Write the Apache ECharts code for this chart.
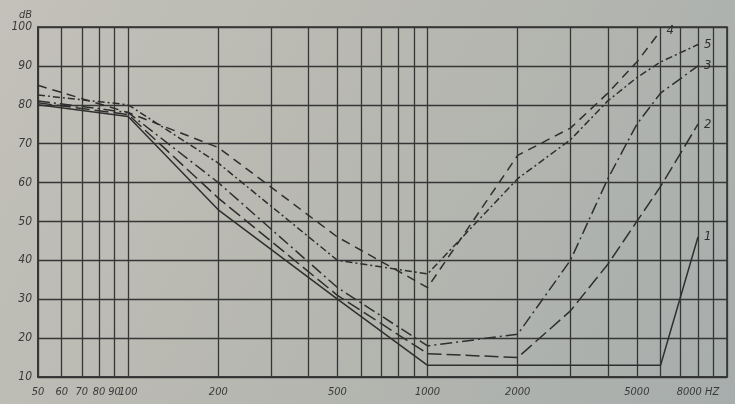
<!DOCTYPE html>
<html>
<head>
<meta charset="utf-8">
<script src="https://cdn.jsdelivr.net/npm/echarts@6/dist/echarts.min.js"></script>
<style>html,body{margin:0;padding:0;background:#b8b8b0;}#c{width:735px;height:404px;}</style>
</head>
<body>
<div id="c"></div>
<script>
// Frequencies of the vertical grid lines (Hz)
const gridFreqs = [50,60,70,80,90,100,200,300,400,500,600,700,800,900,1000,2000,3000,4000,5000,6000,7000,8000,9000,10000];
// Labelled frequencies and their texts
const tickFreqs = [50,60,70,80,90,100,200,500,1000,2000,5000,8000];
const tickTexts = ['50','60','70','80','90','100','200','500','1000','2000','5000','8000 HZ'];
// dB tick labels
const dbTicks = [10,20,30,40,50,60,70,80,90,100];

// Curves [Hz, dB]
const curve1 = [[50,80],[100,77],[200,53],[500,30],[1000,13],[6000,13],[8000,46]];
const curve2 = [[50,80.5],[100,77.5],[200,56],[500,31],[1000,16],[2000,15],[3000,27],[4000,39],[5000,50],[6000,59],[8000,75]];
const curve3 = [[50,81],[100,78],[200,60],[500,33],[1000,18],[2000,21],[3000,40],[4000,61],[5000,75],[6000,83],[8000,90]];
const curve4 = [[50,85],[100,78],[200,69],[500,46],[1000,33],[2000,67],[3000,74],[4000,83],[5000,91],[6000,99]];
const curve5 = [[50,82.5],[100,80],[200,65],[500,40],[1000,36.5],[2000,61],[3000,71],[4000,81],[5000,87],[6000,91],[8000,95.5]];
const curveNames = ['1','2','3','4','5'];

const ink = '#2f2f2f';
const font = "'DejaVu Sans Condensed','Liberation Sans Narrow','DejaVu Sans',sans-serif";

function mkSeries(data, name, dash) {
  return {
    type: 'line', name: name, data: data, symbol: 'none', smooth: false,
    lineStyle: { color: ink, width: 1.5, type: dash },
    endLabel: { show: true, formatter: name, color: ink, fontStyle: 'italic',
                fontFamily: font, fontSize: 13, distance: 6 },
    z: 5
  };
}

const gridLines = gridFreqs.map(f => {
  const i = tickFreqs.indexOf(f);
  return {
    xAxis: f,
    label: i >= 0 ? { show: true, formatter: tickTexts[i] } : { show: false }
  };
});

const series = [
  mkSeries(curve1, curveNames[0], 'solid'),
  mkSeries(curve2, curveNames[1], [14,5]),
  mkSeries(curve3, curveNames[2], [12,4,2,4]),
  mkSeries(curve4, curveNames[3], [9,6]),
  mkSeries(curve5, curveNames[4], [7,3,2,3])
];
series.push({
  type: 'line', data: [], silent: true,
  markLine: {
    silent: true, symbol: ['none','none'], animation: false,
    lineStyle: { color: '#363636', type: 'solid', width: 1.3 },
    label: { position: 'start', color: '#3a3a3a', fontStyle: 'italic', fontFamily: font, fontSize: 11, distance: 10 },
    data: gridLines
  },
  z: 2
});

const chart = echarts.init(document.getElementById('c'), null, { renderer: 'canvas' });
chart.setOption({
  animation: false,
  backgroundColor: {
    type: 'linear', x: 0, y: 0, x2: 1, y2: 1,
    colorStops: [{ offset: 0, color: '#c3c1b9' }, { offset: 0.5, color: '#b6b7b0' }, { offset: 1, color: '#a7adac' }]
  },
  grid: { left: 38, right: 8, top: 27, bottom: 27, show: true, borderColor: '#333', borderWidth: 1.6 },
  xAxis: {
    type: 'log', logBase: 10, min: 50, max: 10000,
    axisLine: { show: true, lineStyle: { color: '#333', width: 1.6 } },
    axisTick: { show: false }, axisLabel: { show: false }, splitLine: { show: false }
  },
  yAxis: {
    type: 'value', min: 10, max: 100, interval: 10,
    name: 'dB', nameLocation: 'end', nameGap: 6,
    nameTextStyle: { color: '#3a3a3a', fontStyle: 'italic', fontFamily: font, fontSize: 11, align: 'right', padding: [0, 6, 0, 0] },
    axisLine: { show: true, lineStyle: { color: '#333', width: 1.6 } },
    axisTick: { show: false },
    axisLabel: { color: '#3a3a3a', fontStyle: 'italic', fontFamily: font, fontSize: 12, margin: 6,
                 formatter: v => dbTicks.indexOf(v) >= 0 ? String(v) : '' },
    splitLine: { show: true, lineStyle: { color: '#363636', width: 1.3 } }
  },
  series: series
});
</script>
</body>
</html>
